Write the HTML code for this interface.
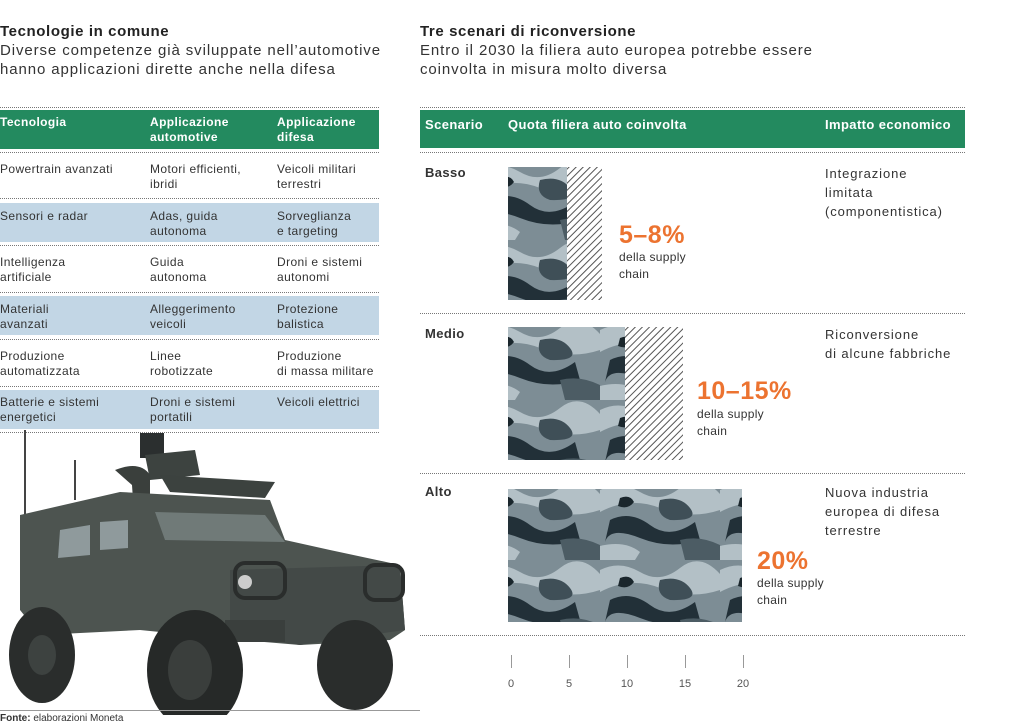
<!DOCTYPE html>
<html><head><meta charset="utf-8"><style>
*{margin:0;padding:0;box-sizing:border-box}
body{width:1018px;height:727px;background:#fff;font-family:"Liberation Sans",sans-serif;color:#222;position:relative;overflow:hidden}
.a{position:absolute}
.t{font-weight:bold;font-size:15px;color:#222;letter-spacing:0.6px}
.s{font-size:15px;color:#333;line-height:19px;letter-spacing:0.9px}
.dot{position:absolute;height:0;border-top:1px dotted #777}
.g{position:absolute;background:#238a5f;color:#fff;font-weight:bold;font-size:12px}
.c{position:absolute;font-size:12px;line-height:15px;color:#333;letter-spacing:0.4px}
.blue{position:absolute;background:#c2d6e5;left:0;width:379px}
.big{position:absolute;color:#ec7330;font-weight:bold;font-size:25px;letter-spacing:0.5px}
.sm{position:absolute;font-size:12px;color:#333;line-height:17px;letter-spacing:0.3px}
.tick{position:absolute;top:655px;width:1px;height:13px;background:#999}
.tl{position:absolute;top:678px;font-size:11px;color:#555;width:30px;text-align:center}
</style></head><body>
<svg width="0" height="0" style="position:absolute"><defs>
<pattern id="camo" width="120" height="80" patternUnits="userSpaceOnUse">
<rect width="120" height="80" fill="#7d8d95"/>
<path d="M0 10 Q20 0 40 12 T80 8 T120 14 L120 30 Q90 40 60 28 T0 32Z" fill="#b3c0c6"/>
<path d="M10 40 Q30 30 50 45 T95 42 L100 60 Q70 70 40 58 T5 62Z" fill="#223038"/>
<path d="M60 20 Q80 15 90 28 T70 40 Q55 35 60 20Z" fill="#3f4f57"/>
<path d="M0 66 Q25 60 40 72 L35 80 L0 80Z" fill="#b3c0c6"/>
<path d="M80 60 Q100 55 120 65 L120 80 L85 80Z" fill="#4c5c64"/>
<path d="M20 18 Q30 14 34 22 Q28 30 18 26Z" fill="#1a262c"/>
</pattern>
<pattern id="hatch" width="5" height="5" patternUnits="userSpaceOnUse" patternTransform="rotate(45)">
<rect width="5" height="5" fill="#fff"/><rect width="1" height="5" fill="#555"/>
</pattern></defs></svg>

<div class="a t" style="left:0;top:23px">Tecnologie in comune</div>
<div class="a s" style="left:0;top:41px">Diverse competenze già sviluppate nell’automotive<br>hanno applicazioni dirette anche nella difesa</div>
<div class="a t" style="left:420px;top:23px">Tre scenari di riconversione</div>
<div class="a s" style="left:420px;top:41px">Entro il 2030 la filiera auto europea potrebbe essere<br>coinvolta in misura molto diversa</div>

<div class="dot" style="left:0;width:379px;top:107px"></div>
<div class="g" style="left:0;top:110px;width:379px;height:39px"></div>
<div class="c" style="left:0;top:115px;color:#fff;font-weight:bold">Tecnologia</div>
<div class="c" style="left:150px;top:115px;color:#fff;font-weight:bold">Applicazione<br>automotive</div>
<div class="c" style="left:277px;top:115px;color:#fff;font-weight:bold">Applicazione<br>difesa</div>
<div class="blue" style="top:203px;height:39px"></div>
<div class="blue" style="top:296px;height:39px"></div>
<div class="blue" style="top:390px;height:39px"></div>
<div class="dot" style="left:0;width:379px;top:152px"></div>
<div class="dot" style="left:0;width:379px;top:198px"></div>
<div class="dot" style="left:0;width:379px;top:245px"></div>
<div class="dot" style="left:0;width:379px;top:292px"></div>
<div class="dot" style="left:0;width:379px;top:339px"></div>
<div class="dot" style="left:0;width:379px;top:386px"></div>
<div class="dot" style="left:0;width:379px;top:432px"></div>

<div class="c" style="left:0;top:162px">Powertrain avanzati</div>
<div class="c" style="left:150px;top:162px">Motori efficienti,<br>ibridi</div>
<div class="c" style="left:277px;top:162px">Veicoli militari<br>terrestri</div>
<div class="c" style="left:0;top:209px">Sensori e radar</div>
<div class="c" style="left:150px;top:209px">Adas, guida<br>autonoma</div>
<div class="c" style="left:277px;top:209px">Sorveglianza<br>e targeting</div>
<div class="c" style="left:0;top:255px">Intelligenza<br>artificiale</div>
<div class="c" style="left:150px;top:255px">Guida<br>autonoma</div>
<div class="c" style="left:277px;top:255px">Droni e sistemi<br>autonomi</div>
<div class="c" style="left:0;top:302px">Materiali<br>avanzati</div>
<div class="c" style="left:150px;top:302px">Alleggerimento<br>veicoli</div>
<div class="c" style="left:277px;top:302px">Protezione<br>balistica</div>
<div class="c" style="left:0;top:349px">Produzione<br>automatizzata</div>
<div class="c" style="left:150px;top:349px">Linee<br>robotizzate</div>
<div class="c" style="left:277px;top:349px">Produzione<br>di massa militare</div>
<div class="c" style="left:0;top:395px">Batterie e sistemi<br>energetici</div>
<div class="c" style="left:150px;top:395px">Droni e sistemi<br>portatili</div>
<div class="c" style="left:277px;top:395px">Veicoli elettrici</div>

<svg class="a" style="left:0;top:430px" width="420" height="285">
<line x1="25" y1="0" x2="25" y2="85" stroke="#444" stroke-width="2"/>
<line x1="75" y1="30" x2="75" y2="70" stroke="#444" stroke-width="2"/>
<rect x="140" y="3" width="24" height="25" fill="#2b2f2f"/>
<path d="M145 25 L195 20 L200 45 L150 50Z" fill="#3d4340"/>
<path d="M115 40 Q140 30 150 45 L150 100 L135 100 L132 55Z" fill="#3a3f3c"/>
<path d="M160 45 L275 52 L265 68 L170 62Z" fill="#3c423f"/>
<path d="M20 85 L120 62 L270 70 L285 110 L330 120 L400 135 L405 200 L390 210 L300 215 L240 210 L140 200 L40 205 L20 180Z" fill="#4d5450"/>
<path d="M155 82 L265 85 L285 112 L165 110Z" fill="#707a78"/>
<path d="M60 100 L90 95 L90 125 L58 128Z" fill="#8f9a9c"/>
<path d="M100 92 L128 90 L128 118 L100 120Z" fill="#8f9a9c"/>
<path d="M230 140 L400 135 L405 200 L300 215 L230 205Z" fill="#434947"/>
<rect x="235" y="133" width="50" height="35" rx="10" fill="none" stroke="#2a2d2c" stroke-width="4"/>
<rect x="365" y="135" width="38" height="35" rx="10" fill="none" stroke="#2a2d2c" stroke-width="4"/>
<circle cx="245" cy="152" r="7" fill="#ccc"/>
<rect x="225" y="190" width="60" height="22" fill="#3a3f3d"/>
<ellipse cx="42" cy="225" rx="33" ry="48" fill="#2a2d2c"/>
<ellipse cx="42" cy="225" rx="14" ry="20" fill="#3d4240"/>
<ellipse cx="355" cy="235" rx="38" ry="45" fill="#2a2d2c"/>
<ellipse cx="195" cy="240" rx="48" ry="60" fill="#262928"/>
<ellipse cx="190" cy="240" rx="22" ry="30" fill="#3a3e3c"/>
</svg>
<div class="a" style="left:0;top:710px;width:420px;border-top:1px solid #999"></div>
<div class="a" style="left:0;top:713px;font-size:10px;color:#333"><b>Fonte:</b> elaborazioni Moneta</div>

<div class="dot" style="left:420px;width:545px;top:107px"></div>
<div class="g" style="left:420px;top:110px;width:545px;height:38px"></div>
<div class="c" style="left:425px;top:117px;color:#fff;font-weight:bold;font-size:13px">Scenario</div>
<div class="c" style="left:508px;top:117px;color:#fff;font-weight:bold;font-size:13px">Quota filiera auto coinvolta</div>
<div class="c" style="left:825px;top:117px;color:#fff;font-weight:bold;font-size:13px">Impatto economico</div>
<div class="dot" style="left:420px;width:545px;top:152px"></div>
<div class="dot" style="left:420px;width:545px;top:313px"></div>
<div class="dot" style="left:420px;width:545px;top:473px"></div>
<div class="dot" style="left:420px;width:545px;top:635px"></div>

<div class="c" style="left:425px;top:165px;font-weight:bold;font-size:13px">Basso</div>
<div class="c" style="left:425px;top:326px;font-weight:bold;font-size:13px">Medio</div>
<div class="c" style="left:425px;top:484px;font-weight:bold;font-size:13px">Alto</div>

<div class="sm" style="left:825px;top:164px;font-size:13px;line-height:19px;letter-spacing:0.9px">Integrazione<br>limitata<br>(componentistica)</div>
<div class="sm" style="left:825px;top:325px;font-size:13px;line-height:19px;letter-spacing:0.9px">Riconversione<br>di alcune fabbriche</div>
<div class="sm" style="left:825px;top:483px;font-size:13px;line-height:19px;letter-spacing:0.9px">Nuova industria<br>europea di difesa<br>terrestre</div>

<svg class="a" style="left:0;top:0" width="1018" height="727">
<rect x="508" y="167" width="59" height="133" fill="url(#camo)"/>
<rect x="567" y="167" width="35" height="133" fill="url(#hatch)"/>
<rect x="508" y="327" width="117" height="133" fill="url(#camo)"/>
<rect x="625" y="327" width="58" height="133" fill="url(#hatch)"/>
<rect x="508" y="489" width="234" height="133" fill="url(#camo)"/>
</svg>

<div class="big" style="left:619px;top:221px">5–8%</div>
<div class="sm" style="left:619px;top:249px">della supply<br>chain</div>
<div class="big" style="left:697px;top:377px">10–15%</div>
<div class="sm" style="left:697px;top:406px">della supply<br>chain</div>
<div class="big" style="left:757px;top:547px">20%</div>
<div class="sm" style="left:757px;top:575px">della supply<br>chain</div>

<div class="tick" style="left:511px"></div><div class="tick" style="left:569px"></div><div class="tick" style="left:627px"></div><div class="tick" style="left:685px"></div><div class="tick" style="left:743px"></div>
<div class="tl" style="left:496px">0</div><div class="tl" style="left:554px">5</div><div class="tl" style="left:612px">10</div><div class="tl" style="left:670px">15</div><div class="tl" style="left:728px">20</div>
</body></html>
